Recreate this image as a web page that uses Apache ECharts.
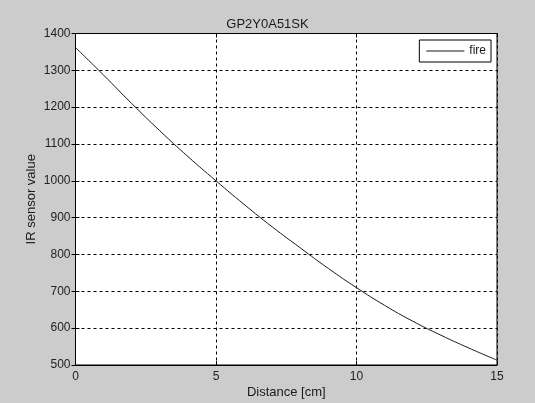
<!DOCTYPE html>
<html>
<head>
<meta charset="utf-8">
<script src="https://cdn.jsdelivr.net/npm/echarts@6/dist/echarts.min.js"></script>
<style>
html,body{margin:0;padding:0;background:#cccccc;}
#c{width:535px;height:403px;}
</style>
</head>
<body>
<div id="c"></div>
<script>
var distance = [0, 1, 2, 3, 4, 5, 6, 7, 8, 9, 10, 11, 12, 13, 14, 15];
var fire = [1362, 1287, 1210, 1136, 1066, 1000, 936, 875, 818, 762, 710, 662, 619, 581, 546, 513];
var xTicks = [0, 5, 10, 15];
var yTicks = [500, 600, 700, 800, 900, 1000, 1100, 1200, 1300, 1400];

var FONT = 'Liberation Sans, Arial, sans-serif';
var chart = echarts.init(document.getElementById('c'), null, {renderer: 'canvas'});
var data = distance.map(function (d, i) { return [d, fire[i]]; });

var grid = {left: 75.5, right: 38, top: 33.5, bottom: 38, show: true,
  backgroundColor: '#ffffff', borderColor: '#000000', borderWidth: 1,
  containLabel: false, outerBoundsMode: 'none'};

chart.setOption({
  backgroundColor: '#cccccc',
  animation: false,
  title: {
    text: 'GP2Y0A51SK', left: 'center', top: 13,
    textStyle: {fontFamily: FONT, fontSize: 13, fontWeight: 'normal', color: '#1a1a1a'}
  },
  legend: {
    data: [{name: 'fire', icon: 'rect'}], right: 44, top: 40,
    backgroundColor: '#ffffff', borderColor: '#000000', borderWidth: 1,
    padding: [4, 5, 4, 7], itemWidth: 38, itemHeight: 1, itemGap: 4,
    textStyle: {fontFamily: FONT, fontSize: 12, color: '#1a1a1a', lineHeight: 14}
  },
  grid: grid,
  xAxis: [{
    type: 'value', min: xTicks[0], max: xTicks[xTicks.length - 1], interval: 5,
    name: 'Distance [cm]', nameLocation: 'middle', nameGap: 21, nameMoveOverlap: false,
    nameTextStyle: {fontFamily: FONT, fontSize: 13, color: '#1a1a1a'},
    axisLine: {show: true, lineStyle: {color: '#000', width: 1}},
    axisTick: {show: true, inside: true, length: 4, lineStyle: {color: '#000'}},
    axisLabel: {fontFamily: FONT, fontSize: 12, color: '#222', margin: 6,
      formatter: function (v) { return String(v); }},
    splitLine: {show: true, lineStyle: {color: '#000', width: 1, type: [3, 3]}}
  }, {
    type: 'value', position: 'top', min: 0, max: 15, interval: 5,
    axisLine: {show: false}, axisLabel: {show: false},
    axisTick: {show: true, inside: true, length: 4, lineStyle: {color: '#000'}},
    splitLine: {show: false}
  }],
  yAxis: [{
    type: 'value', min: yTicks[0], max: yTicks[yTicks.length - 1], interval: 100,
    name: 'IR sensor value', nameLocation: 'middle', nameGap: 38, nameMoveOverlap: false,
    nameTextStyle: {fontFamily: FONT, fontSize: 13, color: '#1a1a1a'},
    axisLine: {show: true, lineStyle: {color: '#000', width: 1}},
    axisTick: {show: true, inside: true, length: 4, lineStyle: {color: '#000'}},
    axisLabel: {fontFamily: FONT, fontSize: 12, color: '#222', margin: 5,
      formatter: function (v) { return String(v); }},
    splitLine: {show: true, lineStyle: {color: '#000', width: 1, type: [3, 3]}}
  }, {
    type: 'value', position: 'right', min: 500, max: 1400, interval: 100,
    axisLine: {show: false}, axisLabel: {show: false},
    axisTick: {show: true, inside: true, length: 4, lineStyle: {color: '#000'}},
    splitLine: {show: false}
  }],
  series: [{
    name: 'fire', type: 'line', data: data, smooth: true, symbol: 'none',
    xAxisIndex: 0, yAxisIndex: 0,
    lineStyle: {color: '#1a1a1a', width: 1}, itemStyle: {color: '#1a1a1a'}
  }]
});
</script>
</body>
</html>
